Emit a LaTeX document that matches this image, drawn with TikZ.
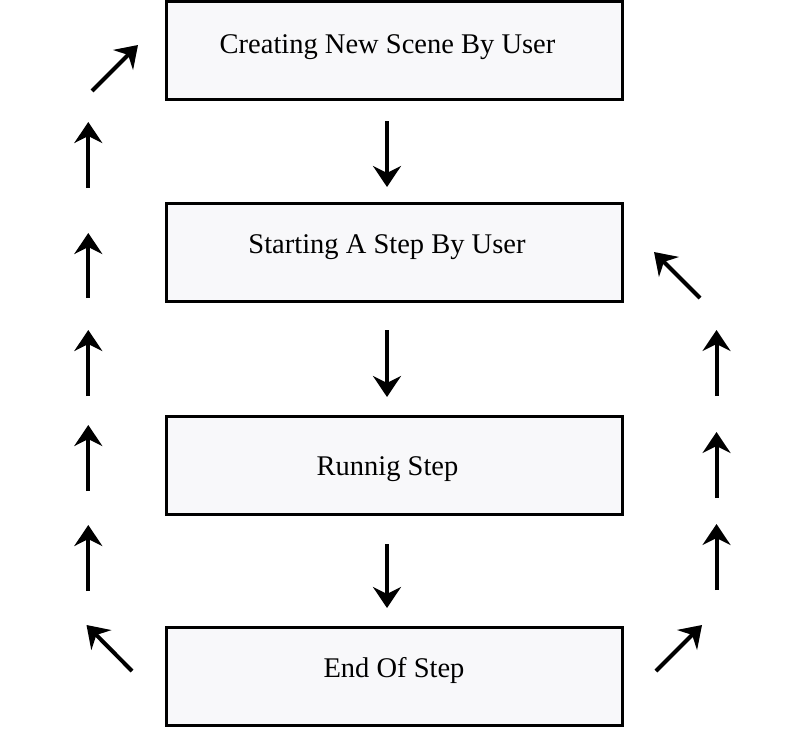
\documentclass[tikz,border=0pt]{standalone}
\usepackage{fontspec}
\setmainfont{Liberation Serif}
\usetikzlibrary{arrows.meta}
\definecolor{boxfill}{RGB}{248,248,250}
\tikzset{
  stepbox/.style={draw=black, line width=3pt, fill=boxfill, minimum width=456pt, minimum height=98pt, inner sep=0pt, outer sep=0pt, anchor=north west},
  steptext/.style={font=\fontsize{28.5}{32}\selectfont, anchor=base, inner sep=0pt},
  flow/.style={line width=4pt, -{Stealth[length=21pt, width=28pt, inset=7pt]}}
}
\begin{document}
\begin{tikzpicture}[x=1pt, y=-1pt]
\useasboundingbox (0,0) rectangle (799,728);
% boxes
\node[stepbox] (b1) at (166,1.5) {};
\node[stepbox] (b2) at (166,203.5) {};
\node[stepbox] (b3) at (166,416) {};
\node[stepbox] (b4) at (166,627.5) {};
\node[steptext] (t1) at (387.5,53.5) {Creating New Scene By User};
\node[steptext] (t2) at (387,253.5) {Starting A Step By User};
\node[steptext] (t3) at (387.5,475.5) {Runnig Step};
\node[steptext] (t4) at (394,677.5) {End Of Step};
% middle arrows
\coordinate (m1a) at (387,121); \coordinate (m1b) at (387,187);
\coordinate (m2a) at (387,330); \coordinate (m2b) at (387,397);
\coordinate (m3a) at (387,544); \coordinate (m3b) at (387,608);
\draw[flow] (m1a) -- (m1b);
\draw[flow] (m2a) -- (m2b);
\draw[flow] (m3a) -- (m3b);
% left column
\coordinate (l0a) at (132,671); \coordinate (l0b) at (86.5,625);
\coordinate (l1a) at (88.3,591); \coordinate (l1b) at (88.3,525);
\coordinate (l2a) at (88.3,491); \coordinate (l2b) at (88.3,425);
\coordinate (l3a) at (88.3,396); \coordinate (l3b) at (88.3,330);
\coordinate (l4a) at (88.3,298); \coordinate (l4b) at (88.3,233);
\coordinate (l5a) at (88.3,188); \coordinate (l5b) at (88.3,122);
\coordinate (l6a) at (92,91); \coordinate (l6b) at (138,45);
\foreach \i in {0,...,6} {\draw[flow] (l\i a) -- (l\i b);}
% right column
\coordinate (r0a) at (656,671); \coordinate (r0b) at (702,625);
\coordinate (r1a) at (716.5,590); \coordinate (r1b) at (716.5,524);
\coordinate (r2a) at (716.5,498); \coordinate (r2b) at (716.5,432);
\coordinate (r3a) at (716.5,396); \coordinate (r3b) at (716.5,330);
\coordinate (r4a) at (700,298); \coordinate (r4b) at (654,252);
\foreach \i in {0,...,4} {\draw[flow] (r\i a) -- (r\i b);}
\end{tikzpicture}
\end{document}
